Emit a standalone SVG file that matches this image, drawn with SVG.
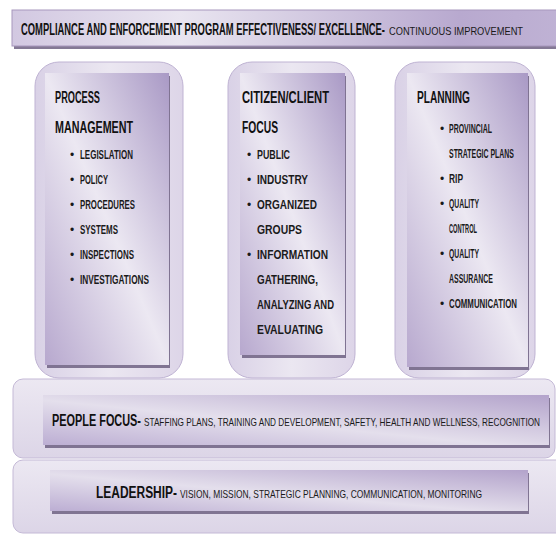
<svg xmlns="http://www.w3.org/2000/svg" width="556" height="536" viewBox="0 0 556 536">
<defs>
<linearGradient id="gBanner" x1="0" y1="0" x2="1" y2="0">
<stop offset="0" stop-color="#d2c8e1"/>
<stop offset="0.3" stop-color="#e9e5f0"/>
<stop offset="0.8" stop-color="#b8a9cf"/>
<stop offset="1" stop-color="#c0b3d5"/>
</linearGradient>
<linearGradient id="gInner" x1="0" y1="1" x2="1" y2="0">
<stop offset="0" stop-color="#b7a8ce"/>
<stop offset="0.5" stop-color="#ece8f2"/>
<stop offset="1" stop-color="#a999c5"/>
</linearGradient>
<linearGradient id="gBar" x1="0" y1="1" x2="1" y2="0">
<stop offset="0" stop-color="#bcaed3"/>
<stop offset="0.45" stop-color="#e4dfec"/>
<stop offset="1" stop-color="#b3a3cb"/>
</linearGradient>
<linearGradient id="gOuter" x1="0" y1="0" x2="1" y2="0">
<stop offset="0" stop-color="#d9d1e6"/>
<stop offset="0.5" stop-color="#ebe7f1"/>
<stop offset="1" stop-color="#ddd5e8"/>
</linearGradient>
<linearGradient id="gOuterH" x1="0" y1="0" x2="0" y2="1">
<stop offset="0" stop-color="#ece8f2"/>
<stop offset="1" stop-color="#dcd5e7"/>
</linearGradient>
</defs>
<style>
.outer{fill:url(#gOuter);stroke:#bfb3d3;stroke-width:1}
.outerH{fill:url(#gOuterH);stroke:#c4b9d6;stroke-width:1}
.inner{fill:url(#gInner)}
.bar{fill:url(#gBar)}
.shadow{fill:#6e6182;opacity:0.85}
.h{font-family:'Liberation Sans Narrow','Liberation Sans',Arial,sans-serif;font-weight:bold;font-size:16px;fill:#111}
.t{font-family:'Liberation Sans Narrow','Liberation Sans',Arial,sans-serif;font-weight:bold;font-size:12.5px;fill:#1a1a1a}
.bl{font-family:'Liberation Sans',Arial,sans-serif;font-size:12px;fill:#1a1a1a}
.s{font-family:'Liberation Sans Narrow','Liberation Sans',Arial,sans-serif;font-size:11.5px;fill:#1a1a1a}
</style>

<g id="banner">
<rect class="shadow" x="14" y="13" width="560" height="36"/>
<rect x="12" y="10" width="560" height="36" fill="url(#gBanner)" stroke="#a797bd" stroke-width="1"/>
<text class="h" x="21" y="35" textLength="364" lengthAdjust="spacingAndGlyphs">COMPLIANCE AND ENFORCEMENT PROGRAM EFFECTIVENESS/ EXCELLENCE-</text>
<text class="s" x="389" y="35" textLength="134" lengthAdjust="spacingAndGlyphs">CONTINUOUS IMPROVEMENT</text>
</g>

<g id="col-process">
<rect class="outer" x="35" y="62" width="148" height="316" rx="24"/>
<rect class="shadow" x="47" y="76" width="123" height="292"/>
<rect class="inner" x="45" y="73" width="124" height="292"/>
<text class="h" x="55" y="103" textLength="45" lengthAdjust="spacingAndGlyphs">PROCESS</text>
<text class="h" x="55" y="133" textLength="78" lengthAdjust="spacingAndGlyphs">MANAGEMENT</text>
<text class="bl" x="70" y="159">•</text><text class="t" x="80" y="159" textLength="53" lengthAdjust="spacingAndGlyphs">LEGISLATION</text>
<text class="bl" x="70" y="184">•</text><text class="t" x="80" y="184" textLength="28" lengthAdjust="spacingAndGlyphs">POLICY</text>
<text class="bl" x="70" y="209">•</text><text class="t" x="80" y="209" textLength="55" lengthAdjust="spacingAndGlyphs">PROCEDURES</text>
<text class="bl" x="70" y="234">•</text><text class="t" x="80" y="234" textLength="38" lengthAdjust="spacingAndGlyphs">SYSTEMS</text>
<text class="bl" x="70" y="259">•</text><text class="t" x="80" y="259" textLength="54" lengthAdjust="spacingAndGlyphs">INSPECTIONS</text>
<text class="bl" x="70" y="284">•</text><text class="t" x="80" y="284" textLength="69" lengthAdjust="spacingAndGlyphs">INVESTIGATIONS</text>
</g>

<g id="col-citizen">
<rect class="outer" x="228" y="62" width="127" height="316" rx="24"/>
<rect class="shadow" x="242" y="76" width="104" height="282"/>
<rect class="inner" x="240" y="73" width="105" height="282"/>
<text class="h" x="242" y="103" textLength="87" lengthAdjust="spacingAndGlyphs">CITIZEN/CLIENT</text>
<text class="h" x="242" y="133" textLength="36" lengthAdjust="spacingAndGlyphs">FOCUS</text>
<text class="bl" x="247" y="159">•</text><text class="t" x="257" y="159" textLength="33" lengthAdjust="spacingAndGlyphs">PUBLIC</text>
<text class="bl" x="247" y="184">•</text><text class="t" x="257" y="184" textLength="51" lengthAdjust="spacingAndGlyphs">INDUSTRY</text>
<text class="bl" x="247" y="209">•</text><text class="t" x="257" y="209" textLength="60" lengthAdjust="spacingAndGlyphs">ORGANIZED</text>
<text class="t" x="257" y="234" textLength="45" lengthAdjust="spacingAndGlyphs">GROUPS</text>
<text class="bl" x="247" y="259">•</text><text class="t" x="257" y="259" textLength="71" lengthAdjust="spacingAndGlyphs">INFORMATION</text>
<text class="t" x="257" y="284" textLength="61" lengthAdjust="spacingAndGlyphs">GATHERING,</text>
<text class="t" x="257" y="309" textLength="77" lengthAdjust="spacingAndGlyphs">ANALYZING AND</text>
<text class="t" x="257" y="334" textLength="66" lengthAdjust="spacingAndGlyphs">EVALUATING</text>
</g>

<g id="col-planning">
<rect class="outer" x="395" y="62" width="140" height="316" rx="24"/>
<rect class="shadow" x="409" y="76" width="120" height="294"/>
<rect class="inner" x="407" y="73" width="121" height="294"/>
<text class="h" x="417" y="103" textLength="53" lengthAdjust="spacingAndGlyphs">PLANNING</text>
<text class="bl" x="440" y="133">•</text><text class="t" x="449" y="133" textLength="43" lengthAdjust="spacingAndGlyphs">PROVINCIAL</text>
<text class="t" x="449" y="158" textLength="65" lengthAdjust="spacingAndGlyphs">STRATEGIC PLANS</text>
<text class="bl" x="440" y="183">•</text><text class="t" x="449" y="183" textLength="14" lengthAdjust="spacingAndGlyphs">RIP</text>
<text class="bl" x="440" y="208">•</text><text class="t" x="449" y="208" textLength="30" lengthAdjust="spacingAndGlyphs">QUALITY</text>
<text class="t" x="449" y="233" textLength="28" lengthAdjust="spacingAndGlyphs">CONTROL</text>
<text class="bl" x="440" y="258">•</text><text class="t" x="449" y="258" textLength="30" lengthAdjust="spacingAndGlyphs">QUALITY</text>
<text class="t" x="449" y="283" textLength="44" lengthAdjust="spacingAndGlyphs">ASSURANCE</text>
<text class="bl" x="440" y="308">•</text><text class="t" x="449" y="308" textLength="68" lengthAdjust="spacingAndGlyphs">COMMUNICATION</text>
</g>

<g id="people-focus">
<rect class="outerH" x="13" y="379" width="542" height="79" rx="10"/>
<rect class="shadow" x="45" y="398" width="505" height="50"/>
<rect class="bar" x="43" y="395" width="506" height="50"/>
<text class="h" x="52" y="426" textLength="89" lengthAdjust="spacingAndGlyphs">PEOPLE FOCUS-</text>
<text class="s" x="144" y="426" textLength="396" lengthAdjust="spacingAndGlyphs">STAFFING PLANS, TRAINING AND DEVELOPMENT, SAFETY, HEALTH AND WELLNESS, RECOGNITION</text>
</g>

<g id="leadership">
<rect class="outerH" x="13" y="460" width="560" height="73" rx="10"/>
<rect class="shadow" x="52" y="473" width="477" height="41"/>
<rect class="bar" x="50" y="470" width="478" height="41"/>
<text class="h" x="96" y="498" textLength="81" lengthAdjust="spacingAndGlyphs">LEADERSHIP-</text>
<text class="s" x="180" y="498" textLength="302" lengthAdjust="spacingAndGlyphs">VISION, MISSION, STRATEGIC PLANNING, COMMUNICATION, MONITORING</text>
</g>
</svg>
